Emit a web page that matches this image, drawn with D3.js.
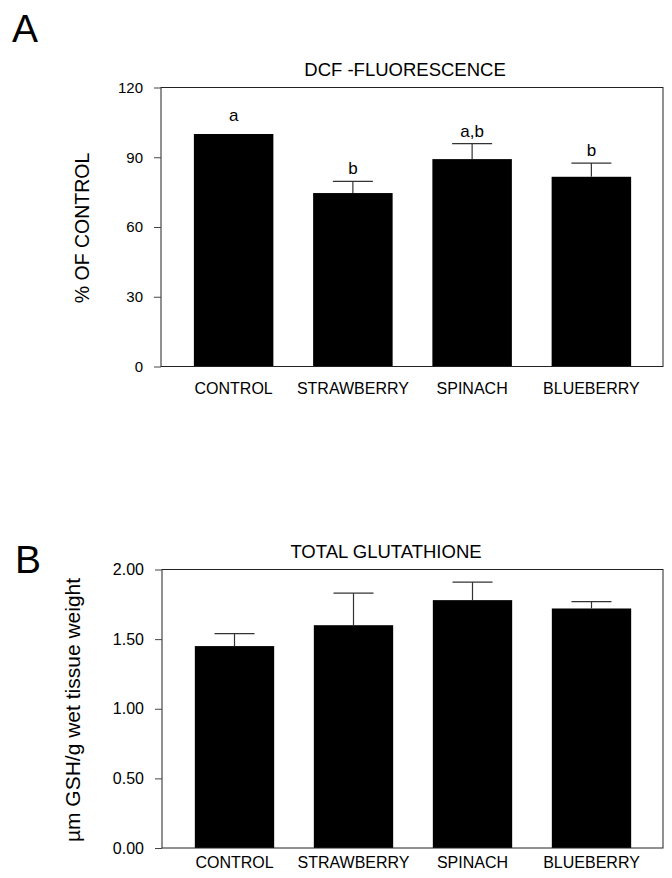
<!DOCTYPE html>
<html>
<head>
<meta charset="utf-8">
<script src="https://cdn.jsdelivr.net/npm/d3@7"></script>
<style>
	body { margin: 0; background: #fff; }
	svg text { font-family: "Liberation Sans", Arial, Helvetica, sans-serif; fill: #000; }
</style>
</head>
<body>
<script>
// categories shared by both panels
const categories = ["CONTROL", "STRAWBERRY", "SPINACH", "BLUEBERRY"];

// panel A - DCF fluorescence, % of control
const dcfValues = [100, 74.6, 89.2, 81.6];
const dcfErrors = [0, 5.0, 6.7, 5.9];
const dcfLetters = ["a", "b", "a,b", "b"];
const dcfTicks = [0, 30, 60, 90, 120];

// panel B - total glutathione
const gshValues = [1.45, 1.60, 1.78, 1.72];
const gshErrors = [0.09, 0.23, 0.13, 0.05];
const gshTicks = [0, 0.5, 1.0, 1.5, 2.0];

let svg = d3.select("body").append("svg")
	.attr("width", 672)
	.attr("height", 878);

/**
 * Draws one bar panel with frame, axes, error bars and labels
 */
function drawPanel(p) {
	let g = svg.append("g");

	let x = d3.scaleBand()
		.domain(categories)
		.range([p.left + 13, p.right - 12])
		.paddingInner(1 / 3)
		.paddingOuter(1 / 6);

	let y = d3.scaleLinear()
		.domain([0, d3.max(p.ticks)])
		.range([p.bottom, p.top]);

	let rows = categories.map(function(c, i) {
		return { name: c, value: p.values[i], err: p.errors[i], letter: p.letters ? p.letters[i] : null };
	});

	// bars
	g.selectAll("rect.bar")
		.data(rows)
		.enter().append("rect")
		.attr("class", "bar")
		.attr("x", function(d) { return x(d.name); })
		.attr("y", function(d) { return y(d.value); })
		.attr("width", x.bandwidth())
		.attr("height", function(d) { return y(0) - y(d.value); })
		.style("fill", "#000");

	// error bars (upper half only)
	let eb = g.selectAll("g.err")
		.data(rows.filter(function(d) { return d.err > 0; }))
		.enter().append("g")
		.attr("class", "err")
		.style("stroke", "#333")
		.style("stroke-width", 1.2);
	eb.append("line")
		.attr("x1", function(d) { return x(d.name) + x.bandwidth() / 2; })
		.attr("x2", function(d) { return x(d.name) + x.bandwidth() / 2; })
		.attr("y1", function(d) { return y(d.value); })
		.attr("y2", function(d) { return y(d.value + d.err); });
	eb.append("line")
		.attr("x1", function(d) { return x(d.name) + x.bandwidth() / 2 - 20; })
		.attr("x2", function(d) { return x(d.name) + x.bandwidth() / 2 + 20; })
		.attr("y1", function(d) { return y(d.value + d.err); })
		.attr("y2", function(d) { return y(d.value + d.err); });

	// significance letters
	if(p.letters)
	{
		g.selectAll("text.letter")
			.data(rows)
			.enter().append("text")
			.attr("class", "letter")
			.attr("x", function(d) { return x(d.name) + x.bandwidth() / 2; })
			.attr("y", function(d) { return y(d.value + d.err) - (d.err > 0 ? 7 : 13); })
			.attr("text-anchor", "middle")
			.style("font-size", "17px")
			.text(function(d) { return d.letter; });
	}

	// frame
	g.append("rect")
		.attr("x", p.left)
		.attr("y", p.top)
		.attr("width", p.right - p.left)
		.attr("height", p.bottom - p.top)
		.style("fill", "none")
		.style("stroke", "#222")
		.style("stroke-width", 1);

	// y axis
	let ya = g.append("g")
		.attr("transform", "translate(" + p.left + ",0)")
		.call(d3.axisLeft(y).tickValues(p.ticks).tickFormat(p.fmt).tickSize(7).tickPadding(11));
	ya.select(".domain").remove();
	ya.selectAll("line").style("stroke", "#444");
	ya.selectAll("text").style("font-size", p.tickFont + "px").style("fill", "#000");

	// x axis labels
	let xa = g.append("g")
		.attr("transform", "translate(0," + p.bottom + ")")
		.call(d3.axisBottom(x).tickSize(0).tickPadding(p.labelPad));
	xa.select(".domain").remove();
	xa.selectAll("text").style("font-size", "16px").style("fill", "#000");

	// title, y label and panel letter
	g.append("text")
		.attr("x", p.titleX)
		.attr("y", p.titleY)
		.attr("text-anchor", "middle")
		.style("font-size", "18.5px")
		.text(p.title);

	g.append("text")
		.attr("transform", "translate(" + p.ylabX + "," + p.ylabY + ") rotate(-90)")
		.attr("text-anchor", "middle")
		.style("font-size", p.ylabFont + "px")
		.text(p.ylabel);

	g.append("text")
		.attr("x", p.tagX)
		.attr("y", p.tagY)
		.style("font-size", "39px")
		.text(p.tag);
}

drawPanel({
	values: dcfValues, errors: dcfErrors, letters: dcfLetters, ticks: dcfTicks,
	fmt: d3.format("d"), tickFont: 15,
	left: 161, right: 663, top: 87.5, bottom: 366.5, labelPad: 16,
	title: "DCF -FLUORESCENCE", titleX: 405, titleY: 76,
	ylabel: "% OF CONTROL", ylabX: 89, ylabY: 228, ylabFont: 19.5,
	tag: "A", tagX: 12, tagY: 42
});

drawPanel({
	values: gshValues, errors: gshErrors, letters: null, ticks: gshTicks,
	fmt: d3.format(".2f"), tickFont: 16,
	left: 162, right: 663, top: 569.5, bottom: 848, labelPad: 9,
	title: "TOTAL GLUTATHIONE", titleX: 386, titleY: 558,
	ylabel: "\u00b5m GSH/g wet tissue weight", ylabX: 80, ylabY: 710, ylabFont: 21,
	tag: "B", tagX: 15, tagY: 573
});
</script>
</body>
</html>
